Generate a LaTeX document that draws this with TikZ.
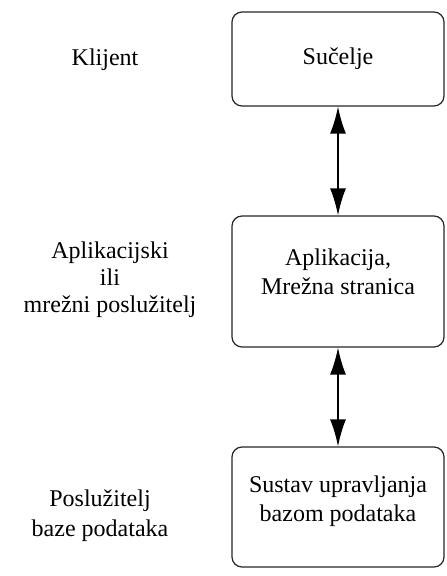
\documentclass[tikz,border=0pt]{standalone}
\usepackage{fontspec}
\setmainfont{Liberation Serif}
\usetikzlibrary{arrows.meta}
\begin{document}
\begin{tikzpicture}[x=1pt,y=-1pt,>={Latex[length=27pt,width=16pt]},
		sloj/.style={draw=black!85,rounded corners=10pt,line width=1.2pt,minimum width=212pt,
			align=center,font=\fontsize{24}{29}\selectfont},
		oznaka/.style={align=center,font=\fontsize{24}{27}\selectfont}]
		\useasboundingbox (0,0) rectangle (447,576);
		% slojevi
		\node[sloj,minimum height=94pt] (sucelje) at (338,59) {Sučelje};
		\node[sloj,minimum height=131pt,text height=26pt] (aplikacija) at (338,281.5)
			{Aplikacija,\\Mrežna stranica};
		\node[sloj,minimum height=120pt,text height=34pt] (sustav) at (338,507)
			{Sustav upravljanja\\bazom podataka};
		% oznake lijevo
		\node[oznaka] (klijent) at (105,60) {Klijent};
		\node[oznaka] (posluzitelj) at (110,280) {Aplikacijski\\ili\\mrežni poslužitelj};
		\node[oznaka,font=\fontsize{24}{30}\selectfont] (baza) at (100,516) {Poslužitelj\\baze podataka};
		% veze
		\draw[<->,line width=1.6pt] (sucelje.south) -- (aplikacija.north);
		\draw[<->,line width=1.6pt] (aplikacija.south) -- (sustav.north);
	\end{tikzpicture}
\end{document}
